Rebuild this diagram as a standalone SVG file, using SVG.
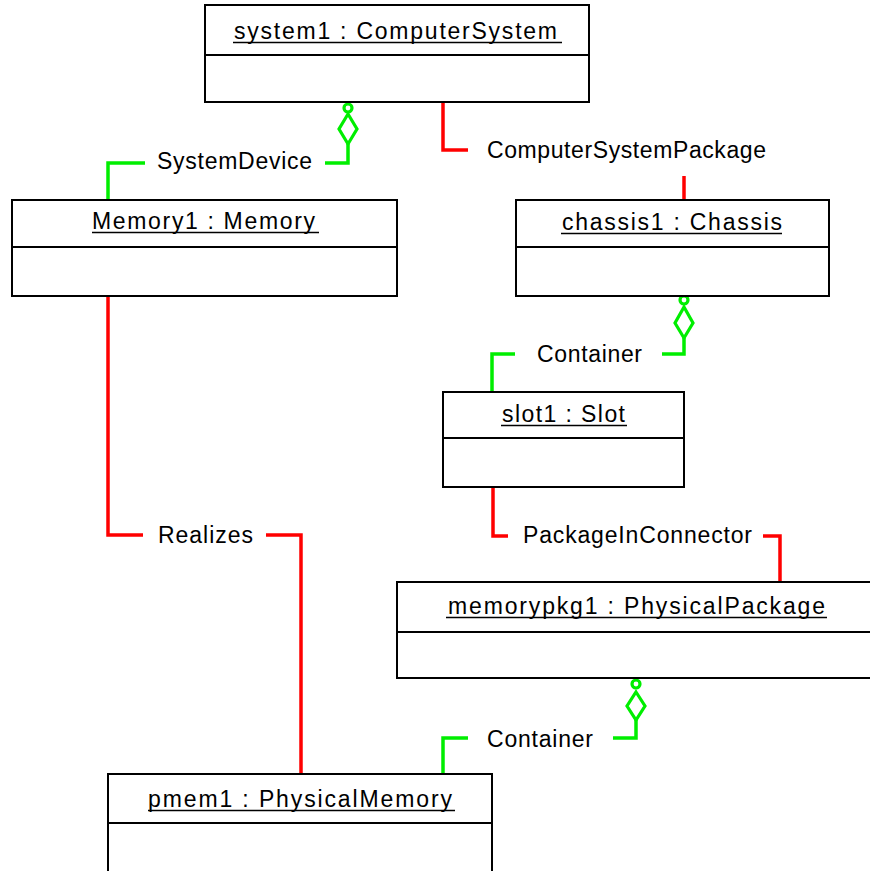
<svg xmlns="http://www.w3.org/2000/svg" width="870" height="871" viewBox="0 0 870 871">
<defs>
<style>
.box{fill:#fff;stroke:#000;stroke-width:2}
.div{stroke:#000;stroke-width:2}
.ul{stroke:#000;stroke-width:1.5}
.t{font-family:"Liberation Sans",Arial,sans-serif;font-size:23px;fill:#000}
.g{fill:none;stroke:#00ee00;stroke-width:3.5}
.r{fill:none;stroke:#ff0000;stroke-width:3.5}
.gm{fill:#fff;stroke:#00ee00;stroke-width:3.2}
</style>
</defs>
<rect width="870" height="871" fill="#fff"/>
<g id="connectors">
<g id="c-systemdevice">
<path class="g" d="M348,144 V163 H325 M145,163 H108 V200"/>
<circle class="gm" cx="348" cy="108" r="4"/>
<polygon class="gm" points="348,114 357,129 348,144 339,129"/>
<text class="t" x="157" y="169" textLength="155" lengthAdjust="spacing">SystemDevice</text>
</g>
<g id="c-csp">
<path class="r" d="M443,102 V150 H468 M684,176 V200"/>
<text class="t" x="487" y="158" textLength="279" lengthAdjust="spacing">ComputerSystemPackage</text>
</g>
<g id="c-container1">
<path class="g" d="M684,338 V354 H662 M515,354 H492 V392"/>
<circle class="gm" cx="684" cy="300" r="4"/>
<polygon class="gm" points="684,307 693,323 684,338 675,323"/>
<text class="t" x="537" y="362" textLength="105" lengthAdjust="spacing">Container</text>
</g>
<g id="c-realizes">
<path class="r" d="M108,296 V535 H143 M266,535 H301 V774"/>
<text class="t" x="158" y="543" textLength="95" lengthAdjust="spacing">Realizes</text>
</g>
<g id="c-pic">
<path class="r" d="M493,487 V536 H508 M763,536 H780 V582"/>
<text class="t" x="523" y="543" textLength="229" lengthAdjust="spacing">PackageInConnector</text>
</g>
<g id="c-container2">
<path class="g" d="M636,720 V738 H613 M468,738 H443 V774"/>
<circle class="gm" cx="636" cy="684" r="4"/>
<polygon class="gm" points="636,692 645,706 636,720 627,706"/>
<text class="t" x="487" y="747" textLength="106" lengthAdjust="spacing">Container</text>
</g>
</g>
<g id="system1">
<rect class="box" x="205" y="5" width="384" height="97"/>
<line class="div" x1="205" y1="55" x2="589" y2="55"/>
<text class="t" x="234" y="39" textLength="323" lengthAdjust="spacing">system1 : ComputerSystem</text>
<line class="ul" x1="233" y1="42.5" x2="562" y2="42.5"/>
</g>
<g id="memory1">
<rect class="box" x="12" y="200" width="385" height="96"/>
<line class="div" x1="12" y1="247" x2="397" y2="247"/>
<text class="t" x="92" y="229" textLength="223" lengthAdjust="spacing">Memory1 : Memory</text>
<line class="ul" x1="92" y1="232.5" x2="319" y2="232.5"/>
</g>
<g id="chassis1">
<rect class="box" x="516" y="200" width="313" height="96"/>
<line class="div" x1="516" y1="247" x2="829" y2="247"/>
<text class="t" x="562" y="230" textLength="220" lengthAdjust="spacing">chassis1 : Chassis</text>
<line class="ul" x1="561" y1="233.5" x2="782" y2="233.5"/>
</g>
<g id="slot1">
<rect class="box" x="443" y="392" width="241" height="95"/>
<line class="div" x1="443" y1="438" x2="684" y2="438"/>
<text class="t" x="502" y="422" textLength="123" lengthAdjust="spacing">slot1 : Slot</text>
<line class="ul" x1="501" y1="425.5" x2="627" y2="425.5"/>
</g>
<g id="memorypkg1">
<rect class="box" x="397" y="582" width="490" height="96"/>
<line class="div" x1="397" y1="632" x2="887" y2="632"/>
<text class="t" x="448" y="614" textLength="377" lengthAdjust="spacing">memorypkg1 : PhysicalPackage</text>
<line class="ul" x1="446" y1="617.5" x2="827" y2="617.5"/>
</g>
<g id="pmem1">
<rect class="box" x="108" y="774" width="384" height="120"/>
<line class="div" x1="108" y1="823" x2="492" y2="823"/>
<text class="t" x="148" y="807" textLength="304" lengthAdjust="spacing">pmem1 : PhysicalMemory</text>
<line class="ul" x1="148" y1="810.5" x2="455" y2="810.5"/>
</g>
</svg>
